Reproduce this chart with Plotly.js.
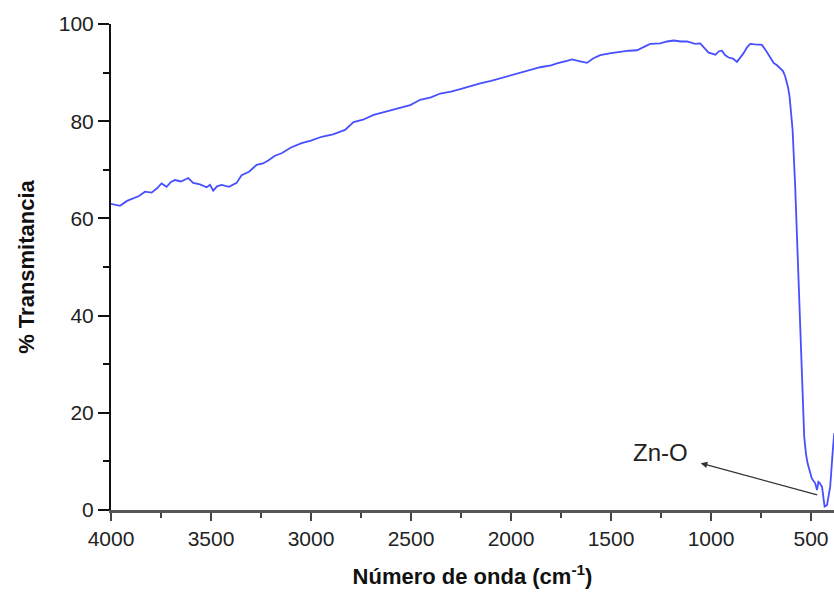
<!DOCTYPE html>
<html>
<head>
<meta charset="utf-8">
<script src="https://cdn.plot.ly/plotly-3.0.1.min.js"></script>
<style>html,body{margin:0;padding:0;background:#fff;}#chart{width:834px;height:595px;}</style>
</head>
<body>
<div id="chart"></div>
<script>
// Wavenumber (cm^-1)
var wavenumber = [4000,3955,3920,3889,3860,3830,3797,3770,3747,3722,3700,3680,3650,3614,3589,3555,3522,3505,3489,3470,3447,3410,3372,3347,3310,3272,3240,3214,3180,3147,3100,3047,3000,2947,2890,2830,2787,2740,2687,2640,2587,2504,2454,2400,2354,2300,2254,2200,2154,2100,2054,2000,1954,1900,1854,1800,1770,1720,1695,1654,1620,1590,1554,1500,1454,1410,1370,1340,1304,1254,1220,1187,1150,1120,1079,1054,1030,1012,978,960,945,930,912,890,870,850,837,820,804,780,760,745,720,700,687,670,654,640,629,615,607,592,579,567,557,545,534,525,517,505,496,479,470,463,457,445,438,432,420,410,404,392,384];
// % Transmittance
var transmittance = [63.0,62.6,63.6,64.1,64.6,65.5,65.3,66.2,67.2,66.5,67.5,67.9,67.6,68.3,67.3,67.0,66.4,66.9,65.7,66.6,66.9,66.5,67.3,68.9,69.6,71.0,71.3,71.9,72.9,73.4,74.6,75.5,76.0,76.8,77.3,78.2,79.8,80.3,81.3,81.8,82.4,83.3,84.4,84.9,85.7,86.1,86.6,87.3,87.8,88.3,88.8,89.4,89.9,90.5,91.1,91.5,91.9,92.4,92.7,92.3,92.0,92.9,93.6,94.0,94.3,94.5,94.6,95.2,95.9,96.0,96.4,96.6,96.4,96.4,95.9,96.0,95.0,94.1,93.7,94.4,94.5,93.6,93.1,92.9,92.2,93.2,94.0,95.2,95.9,95.8,95.7,95.7,94.2,93.0,92.0,91.5,90.9,90.3,89.2,87.0,85.0,78.2,66.5,52.8,39.1,25.4,15.1,11.5,9.6,7.8,6.5,5.5,4.1,5.8,5.6,4.8,2.5,0.7,1.0,3.0,4.8,11.7,15.8];

var annotationLabel = "Zn-O";
var bandPoint = [469, 3.1];
var labelPos = [1254, 11.9];

var fontFam = "Liberation Sans, Arial, sans-serif";

var trace = {
  x: wavenumber, y: transmittance, type: "scatter", mode: "lines",
  line: {color: "rgb(70,80,255)", width: 1.8},
  hoverinfo: "skip"
};

var layout = {
  width: 834, height: 595,
  margin: {l: 111, r: 0, t: 24, b: 85},
  paper_bgcolor: "#fff", plot_bgcolor: "#fff",
  showlegend: false,
  font: {family: fontFam, color: "#222"},
  xaxis: {
    range: [4000, 385], autorange: false,
    tick0: 0, dtick: 500, ticks: "outside", ticklen: 8, tickwidth: 2, tickcolor: "#444",
    minor: {dtick: 250, ticks: "outside", ticklen: 5, tickwidth: 2, tickcolor: "#444"},
    showline: true, linecolor: "#555", linewidth: 3,
    showgrid: false, zeroline: false,
    tickfont: {size: 21, family: fontFam, color: "#222"},
    title: {text: "<b>Número de onda (cm<sup>-1</sup>)</b>", font: {size: 22, family: fontFam, color: "#111"}, standoff: 20}
  },
  yaxis: {
    range: [0, 100], autorange: false,
    tick0: 0, dtick: 20, ticks: "outside", ticklen: 11, tickwidth: 2, tickcolor: "#111",
    minor: {dtick: 10, ticks: "outside", ticklen: 6, tickwidth: 2, tickcolor: "#111"},
    showline: true, linecolor: "#111", linewidth: 2,
    showgrid: false, zeroline: false,
    tickfont: {size: 21, family: fontFam, color: "#222"},
    title: {text: "<b>% Transmitancia</b>", font: {size: 22, family: fontFam, color: "#111"}, standoff: 18}
  },
  annotations: [
    {x: bandPoint[0], y: bandPoint[1], xref: "x", yref: "y",
     ax: labelPos[0], ay: labelPos[1], axref: "x", ayref: "y",
     text: annotationLabel, font: {size: 24, family: fontFam, color: "#222"},
     showarrow: true, arrowside: "start", startarrowhead: 2, startarrowsize: 1,
     arrowwidth: 1.3, arrowcolor: "#333", standoff: 0, startstandoff: 12}
  ]
};

Plotly.newPlot("chart", [trace], layout, {displayModeBar: false, staticPlot: true});
</script>
</body>
</html>
